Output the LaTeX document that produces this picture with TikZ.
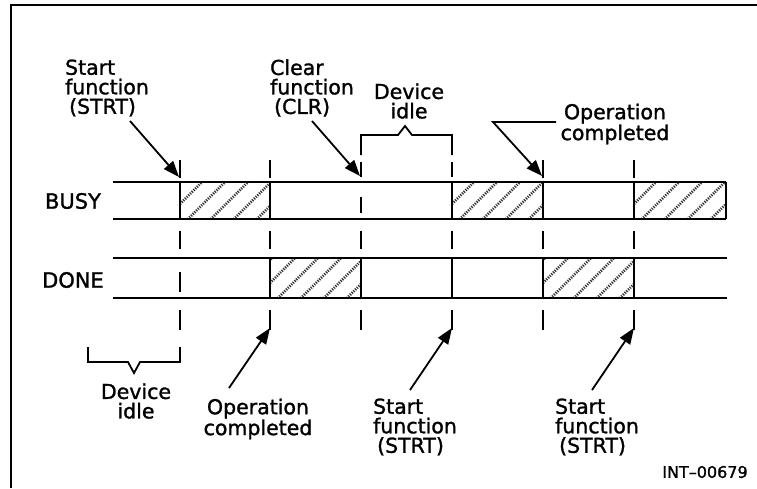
\documentclass[tikz,border=0pt]{standalone}
\usepackage{fontspec}
\setmainfont[FakeBold=1.3]{DejaVu Sans}
\usetikzlibrary{arrows.meta}
\begin{document}
\begin{tikzpicture}[x=1pt,y=-1pt,
  lbl/.style={font=\fontsize{20.5}{19.5}\selectfont, inner sep=0pt, align=center},
  lblL/.style={lbl, align=left},
  sig/.style={line width=1.8pt},
  edgeline/.style={line width=2pt},
  dsh/.style={line width=2pt},
  arr/.style={line width=1.8pt, -{Triangle[length=16pt,width=12pt]}},
  hatch/.style={line width=2.6pt, black!80, dash pattern=on 1.2pt off 1.2pt},
  frame/.style={line width=2.4pt}]
\useasboundingbox (0,0) rectangle (757,488);
\draw[frame] (11,488) -- (11,5) -- (757,5);
% hatched intervals
\foreach \xa/\xb/\yt/\yb in {180/270/182/219, 452/543/182/219, 634/726/182/219, 270/361/258/298, 543/634/258/298}{
  \begin{scope}
    \clip (\xa,\yt) rectangle (\xb,\yb);
    \foreach \k in {0,...,7} \draw[hatch] (\xa-40+\k*23,\yb+2) -- ++(50,-50);
  \end{scope}}
% signal lines
\draw[sig] (113,182) -- (726,182);
\draw[sig] (113,219) -- (726,219);
\draw[sig] (113,258) -- (727,258);
\draw[sig] (113,298) -- (727,298);
\foreach \x in {180,270,452,543,634,726} \draw[edgeline] (\x,182) -- (\x,219);
\foreach \x in {270,361,452,543,634} \draw[edgeline] (\x,258) -- (\x,298);
% dashed guides
\foreach \x in {180,270,543,634} \draw[dsh] (\x,160) -- (\x,178);
\foreach \x in {361,452} \draw[dsh] (\x,162) -- (\x,177);
\foreach \x in {180,270,361,452,543,634} \draw[dsh] (\x,231) -- (\x,249);
\foreach \x in {180,270,361,452,543,634} \draw[dsh] (\x,310) -- (\x,330);
\draw[dsh] (361,197) -- (361,213);
\draw[dsh] (180,272) -- (180,292);
% brackets
\draw[sig] (361,155) -- (361,135) -- (398,135) -- (405,126) -- (412,135) -- (452,135) -- (452,155);
\draw[sig] (88,347) -- (88,362) -- (128,362) -- (134,373) -- (140,362) -- (180,362) -- (180,347);
% labels
\node[lblL] (strt1) at (107,88) {Start\\function\\\hspace{4pt}(STRT)};
\node[lblL] (clr) at (312,88) {Clear\\function\\\hspace{4pt}(CLR)};
\node[lbl] (idle1) at (409,101) {Device\\idle};
\node[lbl] (opc1) at (615,124) {Operation\\completed};
\node[lbl, font=\fontsize{21}{21}\selectfont] (busy) at (73,201) {BUSY};
\node[lbl, font=\fontsize{21}{21}\selectfont] (done) at (73,280) {DONE};
\node[lbl] (idle2) at (136,401) {Device\\idle};
\node[lbl] (opc2) at (258,419) {Operation\\completed};
\node[lblL] (strt2) at (415,427) {Start\\function\\\hspace{4pt}(STRT)};
\node[lblL] (strt3) at (597,427) {Start\\function\\\hspace{4pt}(STRT)};
\node[font=\fontsize{16}{16}\selectfont, inner sep=0pt] (int) at (705,472) {INT–00679};
% arrows
\coordinate (a1s) at (130,121); \coordinate (a1e) at (179,177);
\coordinate (a2s) at (312,121); \coordinate (a2e) at (360,176);
\coordinate (a3s) at (556,122); \coordinate (a3m) at (493,122); \coordinate (a3e) at (542,176);
\coordinate (a4s) at (229,388); \coordinate (a4e) at (270,328);
\coordinate (a5s) at (410,390); \coordinate (a5e) at (452,328);
\coordinate (a6s) at (592,390); \coordinate (a6e) at (634,328);
\draw[arr] (a1s) -- (a1e);
\draw[arr] (a2s) -- (a2e);
\draw[arr] (a3s) -- (a3m) -- (a3e);
\draw[arr] (a4s) -- (a4e);
\draw[arr] (a5s) -- (a5e);
\draw[arr] (a6s) -- (a6e);
\end{tikzpicture}
\end{document}
